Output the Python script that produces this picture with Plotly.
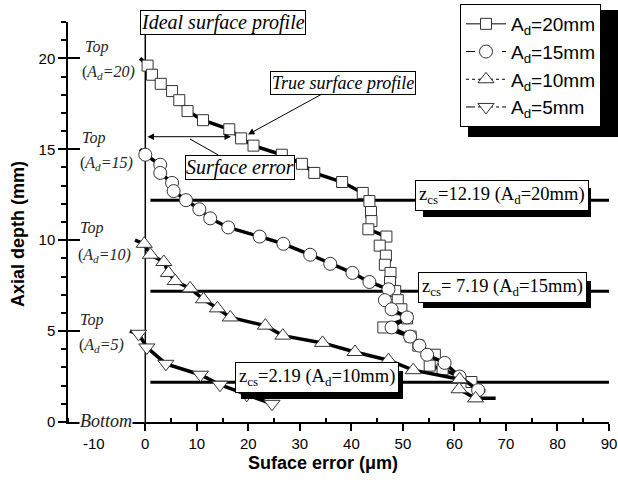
import plotly.graph_objects as go

# ---------------- data ----------------
series_names = ["A<sub>d</sub>=20mm", "A<sub>d</sub>=15mm", "A<sub>d</sub>=10mm", "A<sub>d</sub>=5mm"]

ad20_x = [-1.0, 0.45, 1.3, 3.0, 5.2, 6.6, 8.2, 11.2, 16.3, 18.6, 21.0, 26.5, 30.4, 32.8, 38.2, 42.2,
          43.5, 43.8, 43.9, 43.3, 46.8, 45.5, 46.7, 46.5, 47.6, 47.5, 48.5, 49.0, 49.7, 50.8, 46.2,
          51.5, 53.0, 56.2, 55.2, 57.7, 63.3, 64.9]
ad20_y = [20.0, 19.6, 19.1, 18.6, 18.2, 17.7, 17.1, 16.6, 16.1, 15.6, 15.2, 14.7, 14.2, 13.7, 13.2, 12.6,
          12.15, 11.55, 11.05, 10.6, 10.2, 9.7, 9.15, 8.65, 8.2, 7.7, 7.2, 6.7, 6.2, 5.7, 5.2,
          4.7, 4.2, 3.7, 3.1, 2.9, 2.2, 1.85]

ad15_x = [-1.0, 0.0, 2.9, 2.9, 5.2, 5.5, 7.9, 10.5, 12.6, 16.1, 22.2, 26.8, 32.0, 35.9, 40.2, 43.5,
          47.2, 46.5, 47.8, 50.8, 47.8, 51.4, 53.2, 54.7, 58.1, 61.0, 64.6, 66.0]
ad15_y = [15.0, 14.7, 14.15, 13.7, 13.15, 12.7, 12.2, 11.7, 11.2, 10.7, 10.2, 9.8, 9.2, 8.7, 8.2, 7.7,
          7.3, 6.7, 6.2, 5.75, 5.2, 4.7, 4.2, 3.7, 3.25, 2.5, 1.75, 1.7]

ad10_x = [-2.0, -0.2, 1.0, 3.6, 4.5, 5.8, 8.7, 11.3, 14.0, 16.5, 23.3, 26.7, 34.4, 40.7, 47.2, 52.0,
          61.0, 60.9, 64.1, 68.0]
ad10_y = [10.0, 9.8, 9.2, 8.8, 8.2, 7.75, 7.35, 6.75, 6.25, 5.75, 5.3, 4.75, 4.35, 3.85, 3.4, 2.85,
          2.35, 1.8, 1.3, 1.3]

ad5_x = [-3.0, -1.3, 0.3, 4.0, 10.7, 14.5, 19.7, 24.6]
ad5_y = [5.0, 4.85, 4.1, 3.2, 2.6, 2.05, 1.5, 1.0]

zcs_values = [12.19, 7.19, 2.19]
zcs_labels = ["z<sub>cs</sub>=12.19 (A<sub>d</sub>=20mm)",
              "z<sub>cs</sub>= 7.19 (A<sub>d</sub>=15mm)",
              "z<sub>cs</sub>=2.19 (A<sub>d</sub>=10mm)"]

x_ticks = [-10, 0, 10, 20, 30, 40, 50, 60, 70, 80, 90]
x_minor = [-15, -5, 5, 15, 25, 35, 45, 55, 65, 75, 85]
y_ticks = [0, 5, 10, 15, 20]
y_minor = [v for v in range(0, 23) if v % 5]

top_labels = ["(<i>A</i><sub><i>d</i></sub><i>=20)</i>", "(<i>A</i><sub><i>d</i></sub><i>=15)</i>",
              "(<i>A</i><sub><i>d</i></sub><i>=10)</i>", "(<i>A</i><sub><i>d</i></sub><i>=5)</i>"]

# ---------------- geometry helpers (layout only) ----------------
W, H = 618, 485
L, R, T, B = 68, 9, 22, 63
X0, X1 = -15, 90
Y0, Y1 = 0, 22
PW, PH = W - L - R, H - T - B


def dx(px):
    return X0 + (px - L) / PW * (X1 - X0)


def dy(py):
    return Y1 - (py - T) / PH * (Y1 - Y0)


def paper_x(px):
    return (px - L) / PW


def paper_y(py):
    return (H - B - py) / PH


SERIF = "Liberation Serif"
SANS = "Arial, Liberation Sans"
C = dict(xanchor="center", yanchor="middle")

fig = go.Figure()

# ideal surface profile (x = 0)
fig.add_trace(go.Scatter(x=[0, 0], y=[0, 21.5], mode="lines",
                         line=dict(color="black", width=1.5), showlegend=False, hoverinfo="skip"))

# z_cs lines
for z in zcs_values:
    fig.add_trace(go.Scatter(x=[1, 90], y=[z, z], mode="lines",
                             line=dict(color="black", width=3), showlegend=False, hoverinfo="skip"))

series = [
    (ad20_x, ad20_y, "square", 11, "solid", False),
    (ad15_x, ad15_y, "circle", 13, "dash", False),
    (ad10_x, ad10_y, "triangle-up", 14, "dot", False),
    (ad5_x, ad5_y, "triangle-down", 14, "dashdot", True),
]

for i, ((xs, ys, sym, size, dash, keep_last), name) in enumerate(zip(series, series_names)):
    fig.add_trace(go.Scatter(x=xs, y=ys, mode="lines", line=dict(color="black", width=3.5),
                             showlegend=False, hoverinfo="skip"))
    mx = xs[1:] if keep_last else xs[1:-1]
    my = ys[1:] if keep_last else ys[1:-1]
    fig.add_trace(go.Scatter(x=mx, y=my, mode="markers",
                             marker=dict(symbol=sym, size=size, color="white",
                                         line=dict(color="#333", width=1)),
                             showlegend=False))
    fig.add_trace(go.Scatter(x=[None], y=[None], mode="lines+markers", name=name,
                             legendgroup=f"g{i}",
                             line=dict(color="black", width=1, dash=dash),
                             marker=dict(symbol=sym, size=size, color="white",
                                         line=dict(color="#333", width=1))))

fig.add_trace(go.Scatter(x=[None], y=[None], yaxis="y2", showlegend=False))

annotations = []
shapes = []

# z_cs boxes
box_px = [(501.5, 195), (502, 287), (317, 377)]
shadow_px = [(423, 188, 591, 217), (423, 281, 591, 308), (241, 371, 403, 399)]
for (cx, cy), lab, (sx0, sy0, sx1, sy1) in zip(box_px, zcs_labels, shadow_px):
    shapes.append(dict(type="rect", xref="x", yref="y", x0=dx(sx0), x1=dx(sx1), y0=dy(sy0), y1=dy(sy1),
                       fillcolor="black", line=dict(width=0), layer="above"))
    annotations.append(dict(x=dx(cx), y=dy(cy), xref="x", yref="y", text=lab, showarrow=False,
                            font=dict(family=SERIF, size=18.5, color="black"),
                            bgcolor="white", bordercolor="black", borderwidth=1, borderpad=3, **C))

# Ideal surface profile
annotations.append(dict(x=dx(222.5), y=dy(22), xref="x", yref="y", text="<i>Ideal surface profile</i>",
                        showarrow=False, font=dict(family=SERIF, size=20, color="black"),
                        bgcolor="white", bordercolor="black", borderwidth=1, borderpad=0, **C))
# True surface profile with arrow
annotations.append(dict(x=dx(248), y=dy(134.5), xref="x", yref="y", text="<i>True surface profile</i>",
                        showarrow=True, ax=95, ay=-52, arrowhead=2, arrowsize=1.3, arrowwidth=1,
                        arrowcolor="black",
                        font=dict(family=SERIF, size=18, color="black"),
                        bgcolor="white", bordercolor="black", borderwidth=1, borderpad=1))
# Surface error
annotations.append(dict(x=dx(190), y=dy(139), xref="x", yref="y", text="<i>Surface error</i>",
                        showarrow=True, ax=49.5, ay=28, arrowhead=0, arrowwidth=1, arrowcolor="black",
                        font=dict(family=SERIF, size=20, color="black"),
                        bgcolor="white", bordercolor="black", borderwidth=1, borderpad=0))
# double arrow for surface error
annotations.append(dict(x=dx(231), y=dy(136.7), xref="x", yref="y", ax=dx(146), ay=dy(136.7),
                        axref="x", ayref="y", text="", showarrow=True, arrowhead=2, arrowside="end+start",
                        arrowsize=1.3, arrowwidth=1, arrowcolor="black"))

# Top labels
top_px = [(96.5, 46.7, 108, 72), (93, 138, 106.5, 163), (91.7, 228, 104, 255), (91.7, 320, 101, 345)]
for (tx, ty, lx, ly), lab in zip(top_px, top_labels):
    annotations.append(dict(x=paper_x(tx), y=paper_y(ty), xref="paper", yref="paper", text="<i>Top</i>",
                            showarrow=False, font=dict(family=SERIF, size=16, color="#222"), **C))
    annotations.append(dict(x=paper_x(lx), y=paper_y(ly), xref="paper", yref="paper", text=lab,
                            showarrow=False, font=dict(family=SERIF, size=16, color="#222"), **C))
annotations.append(dict(x=paper_x(106), y=paper_y(421), xref="paper", yref="paper", text="<i>Bottom</i>",
                        showarrow=False, font=dict(family=SERIF, size=18, color="#222"),
                        bgcolor="white", borderpad=0, **C))

# axis titles
annotations.append(dict(x=dx(323), y=paper_y(463), xref="x", yref="paper", text="<b>Suface error (μm)</b>",
                        showarrow=False, font=dict(family=SANS, size=18, color="black"), **C))
annotations.append(dict(x=paper_x(18), y=paper_y(234), xref="paper", yref="paper",
                        text="<b>Axial depth (mm)</b>", textangle=-90,
                        showarrow=False, font=dict(family=SANS, size=18, color="black"), **C))

# legend shadow
shapes.append(dict(type="rect", xref="paper", yref="paper", x0=paper_x(468), x1=paper_x(618),
                   y0=paper_y(137), y1=paper_y(10), fillcolor="black", line=dict(width=0), layer="above"))

fig.update_layout(
    width=W, height=H,
    margin=dict(l=L, r=R, t=T, b=B, autoexpand=False),
    paper_bgcolor="white", plot_bgcolor="white",
    font=dict(family=SANS, size=15, color="black"),
    showlegend=True,
    legend=dict(x=paper_x(460), y=paper_y(4), xanchor="left", yanchor="top",
                bgcolor="white", bordercolor="black", borderwidth=1, itemwidth=40,
                traceorder="grouped", tracegroupgap=0,
                font=dict(family=SANS, size=19, color="black")),
    xaxis=dict(range=[X0, X1], showline=True, linecolor="black", linewidth=1.5, showgrid=False,
               zeroline=False, tickmode="array", tickvals=x_ticks, ticktext=[str(v) for v in x_ticks],
               ticks="outside", ticklen=7, tickwidth=1.5, tickcolor="black",
               minor=dict(tickmode="array", tickvals=x_minor, ticks="inside", ticklen=4,
                          tickwidth=1.5, tickcolor="black"),
               tickfont=dict(family=SANS, size=15)),
    yaxis=dict(range=[Y0, Y1], showline=True, linecolor="black", linewidth=1.5, showgrid=False,
               zeroline=False, tickmode="array", tickvals=y_ticks, ticktext=[str(v) for v in y_ticks],
               ticks="outside", ticklen=8, tickwidth=1.5, tickcolor="black",
               minor=dict(tickmode="array", tickvals=y_minor, ticks="outside", ticklen=5,
                          tickwidth=1.5, tickcolor="black"),
               tickfont=dict(family=SANS, size=15)),
    yaxis2=dict(range=[Y0, Y1], overlaying="y", anchor="x", side="left", showline=False, showgrid=False,
                zeroline=False, tickmode="array", tickvals=y_ticks, showticklabels=False,
                ticks="inside", ticklen=12, tickwidth=1.5, tickcolor="black"),
    annotations=annotations,
    shapes=shapes,
)

fig.write_html("out.html")
